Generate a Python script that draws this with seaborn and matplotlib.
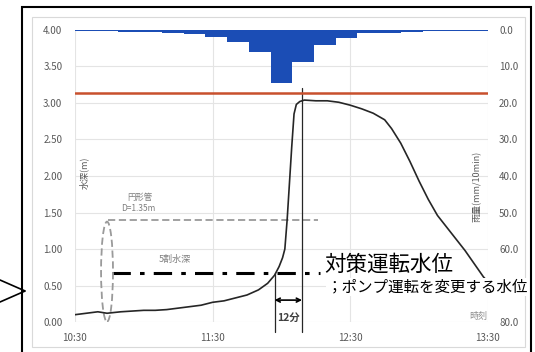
import numpy as np
import pandas as pd
import seaborn as sns
import matplotlib.pyplot as plt
from matplotlib.patches import Ellipse, Rectangle
from matplotlib.lines import Line2D

# water depth curve (minutes after 10:30, metres)
t_min = [0, 5, 10, 14, 20, 25, 30, 35, 40, 45, 50, 55, 60, 65, 70, 75, 80, 84, 87,
         89, 90.5, 91.5, 92.5, 93.5, 94.5, 95.5, 96.5, 98, 100, 105, 110, 115, 120,
         125, 130, 135, 138, 142, 146, 150, 154, 158, 162, 166, 170, 174, 178, 180]
depth = [0.10, 0.12, 0.14, 0.12, 0.14, 0.15, 0.16, 0.16, 0.17, 0.19, 0.21, 0.23, 0.27,
         0.29, 0.33, 0.37, 0.44, 0.53, 0.64, 0.76, 0.88, 1.00, 1.40, 1.90, 2.40, 2.85,
         2.98, 3.02, 3.04, 3.03, 3.03, 3.01, 2.97, 2.92, 2.86, 2.77, 2.65, 2.45, 2.20,
         1.93, 1.68, 1.46, 1.30, 1.14, 0.98, 0.80, 0.62, 0.55]

# rainfall, 19 bars over the 3 hours (mm/10min)
rain = [0.3, 0.4, 0.5, 0.6, 0.8, 1.2, 1.9, 3.2, 5.9, 14.6, 8.7, 4.0, 2.1, 0.9, 0.7,
        0.5, 0.4, 0.35, 0.3]

x_ticks = [0, 60, 120, 180]
x_labels = ["10:30", "11:30", "12:30", "13:30"]
left_ticks = np.arange(0, 4.01, 0.5)
right_ticks = np.arange(0, 80.1, 10)

ground_level = 3.14      # red line
pipe_top = 1.40          # D=1.35m pipe
half_depth = 0.67        # 5割水深
t_cross = 87             # curve passes 対策運転水位
t_peak = 99              # 12 minutes later

sns.set_theme(style="white")
plt.rcParams['font.family'] = ['Noto Sans CJK JP', 'DejaVu Sans']

fig = plt.figure(figsize=(5.35, 3.52), dpi=100)
ax = fig.add_axes([0.140, 0.0852, 0.772, 0.8296])

# frames
fig.patches.append(Rectangle((0.060, 0.014), 0.921, 0.938, transform=fig.transFigure,
                             fill=False, ec="#D9D9D9", lw=0.8))
fig.patches.append(Rectangle((0.0406, -0.05), 0.952, 1.029, transform=fig.transFigure,
                             fill=False, ec="black", lw=1.5))
# arrow stub on the left
fig.lines.append(Line2D([0.0, 0.047, 0.0], [1 - 280 / 352, 1 - 291 / 352, 1 - 302 / 352],
                        transform=fig.transFigure, color="black", lw=1.2))

# rainfall on inverted secondary axis
ax_r = ax.twinx()
ax_bar = ax_r.twiny()
sns.barplot(x=list(range(len(rain))), y=rain, ax=ax_bar, color="#1B4DB5",
            width=1.0, saturation=1, linewidth=0)
ax_bar.set_xlim(-0.5, len(rain) - 0.5)
ax_bar.set_xticks([])
ax_bar.set_xlabel("")
ax_r.set_ylim(80, 0)
ax_r.set_yticks(right_ticks)
ax_r.set_yticklabels([f"{v:.1f}" for v in right_ticks])
ax_r.tick_params(axis="y", length=0, pad=8, labelsize=7, labelcolor="#595959")

# water depth
sns.lineplot(x=t_min, y=depth, ax=ax, color="#262626", lw=1.2, zorder=5)
ax.axhline(ground_level, color="#C8502D", lw=1.8, zorder=4)

ax.set_xlim(0, 180)
ax.set_ylim(0, 4)
ax.set_xticks(x_ticks)
ax.set_xticklabels(x_labels)
ax.set_yticks(left_ticks)
ax.set_yticklabels([f"{v:.2f}" for v in left_ticks])
ax.tick_params(axis="both", length=0, labelsize=7, labelcolor="#595959")
ax.tick_params(axis="x", pad=8)
ax.tick_params(axis="y", pad=9)
ax.grid(True, color="#E4E4E4", lw=0.8)
for a in (ax, ax_r, ax_bar):
    for s in a.spines.values():
        s.set_visible(False)

# pipe ellipse and reference lines
ax.add_patch(Ellipse((14, 0.69), 5.2, 1.37, fill=False, ec="#9A9A9A", ls=(0, (4, 2)),
                     lw=1.3, zorder=3))
ax.plot([14.5, 106], [pipe_top, pipe_top], color="#9A9A9A", ls=(0, (4, 2)), lw=1.3)
ax.plot([16, 107], [half_depth, half_depth], color="black", ls=(0, (6, 3, 1.5, 3)), lw=2.2)

ax.text(28.4, 1.71, "円形管", fontsize=6, color="#7F7F7F", ha="center", va="center")
ax.text(27.5, 1.56, "D=1.35m", fontsize=6, color="#7F7F7F", ha="center", va="center")
ax.text(43.6, 0.85, "5割水深", fontsize=6.5, color="#7F7F7F", ha="center", va="center")

# 12 min marker
ax.plot([t_cross, t_cross], [half_depth, -0.14], color="#262626", lw=0.9, clip_on=False)
ax.plot([t_peak, t_peak], [3.21, -0.14], color="#262626", lw=0.9, clip_on=False)
ax.annotate("", xy=(t_cross, 0.30), xytext=(t_peak, 0.30),
            arrowprops=dict(arrowstyle="<->", color="black", lw=1.2,
                            shrinkA=0, shrinkB=0, mutation_scale=7))
ax.text((t_cross + t_peak) / 2, 0.06, "12分", fontsize=7.5, fontweight="bold",
        color="#404040", ha="center", va="center")

ax.text(108.7, 0.79, "対策運転水位", fontsize=15.5, color="black", ha="left", va="center")
# drawn on the figure so it sits over the 70.0 tick label, as in the original
fig.text(327 / 535, 1 - 287 / 352, "；ポンプ運転を変更する水位", fontsize=11.2,
         color="black", ha="left", va="center", zorder=10,
         bbox=dict(facecolor="white", edgecolor="none", pad=0.5))
ax.text(176, 0.07, "時刻", fontsize=6.5, color="#8C8C8C", ha="center", va="center")

ax.text(0.022, 0.51, "水深(m)", transform=ax.transAxes, rotation=90, fontsize=6.5,
        color="#595959", ha="center", va="center")
ax.text(0.973, 0.466, "雨量(mm/10min)", transform=ax.transAxes, rotation=90,
        fontsize=6.5, color="#595959", ha="center", va="center")

fig.savefig("out.png", dpi=100)
